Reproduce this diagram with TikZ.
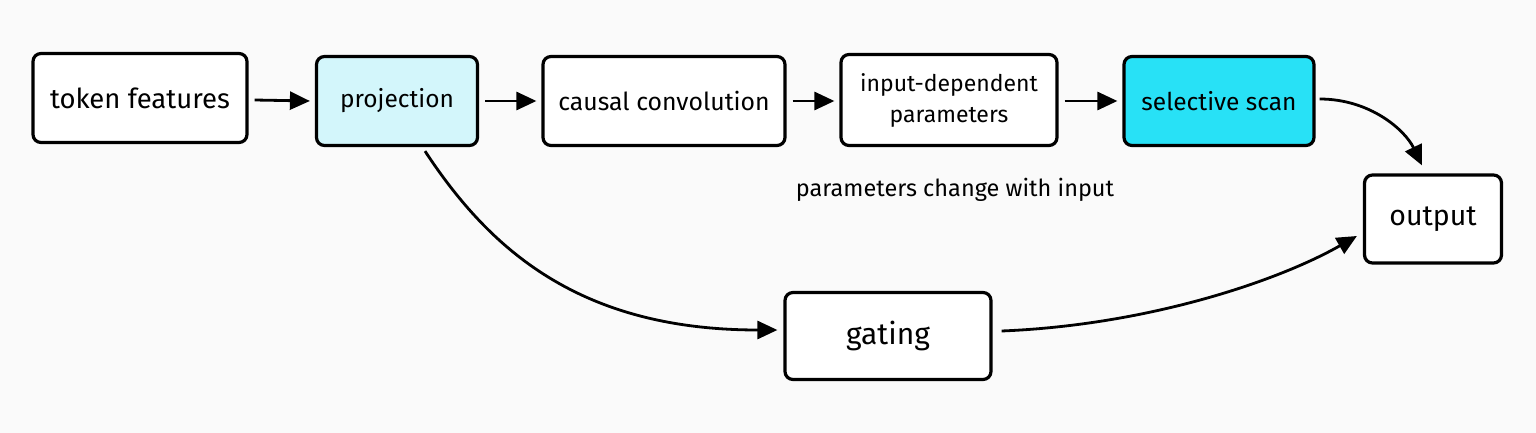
\documentclass[tikz,border=0pt]{standalone}
\usepackage{fontspec}
\setmainfont{Fira Sans}
\usetikzlibrary{arrows.meta,calc}
\definecolor{bg}{HTML}{FAFAFA}
\definecolor{lightcyan}{HTML}{D3F6FB}
\definecolor{brightcyan}{HTML}{28E1F6}
\tikzset{
  box/.style={draw=black, line width=3.2pt, rounded corners=8pt, fill=white, align=center, inner sep=0pt, font=\fontsize{24.5}{28}\selectfont},
  conn/.style={line width=2.8pt, -{Triangle[length=20pt,width=18pt]}},
}
\begin{document}
\begin{tikzpicture}[x=1pt,y=-1pt]
\fill[bg] (0,0) rectangle (1536,433);
\useasboundingbox (0,0) rectangle (1536,433);
\node[box, minimum width=214pt, minimum height=89pt, font=\fontsize{27.5}{30}\selectfont] (tok) at (140,98) {token features};
\node[box, fill=lightcyan, minimum width=161pt, minimum height=89pt] (proj) at (397,101) {projection};
\node[box, minimum width=242pt, minimum height=89pt, font=\fontsize{24.8}{28}\selectfont] (conv) at (664,101) {causal convolution};
\node[box, minimum width=216pt, minimum height=91pt, font=\fontsize{23}{31}\selectfont] (inp) at (949,100) {input-dependent\\parameters};
\node[box, fill=brightcyan, minimum width=190pt, minimum height=89pt] (scan) at (1219,101) {selective scan};
\node[box, minimum width=137pt, minimum height=88pt, font=\fontsize{28.5}{32}\selectfont] (out) at (1433,219) {output};
\node[box, minimum width=206pt, minimum height=87pt, font=\fontsize{30}{34}\selectfont] (gate) at (888,336) {gating};
\node[font=\fontsize{23.5}{26}\selectfont] (note) at (955,190) {parameters change with input};
\draw[conn] (tok.east) ++(6,2) -- ($(proj.west)+(-5,0)$);
\draw[conn] ($(proj.east)+(6,0)$) -- ($(conv.west)+(-5,0)$);
\draw[conn] ($(conv.east)+(6,0)$) -- ($(inp.west)+(-5,1)$);
\draw[conn] ($(inp.east)+(6,1)$) -- ($(scan.west)+(-5,0)$);
\draw[conn] ($(scan.east)+(4,-2)$) .. controls (1370,99) and (1405,130) .. ($(out.north)+(-11,-8)$);
\draw[conn] ($(proj.south)+(28,4)$) .. controls (490,250) and (580,330) .. ($(gate.west)+(-6,-6)$);
\draw[conn] ($(gate.east)+(9,-5)$) .. controls (1150,325) and (1280,280) .. ($(out.west)+(-6,17)$);
\end{tikzpicture}
\end{document}
